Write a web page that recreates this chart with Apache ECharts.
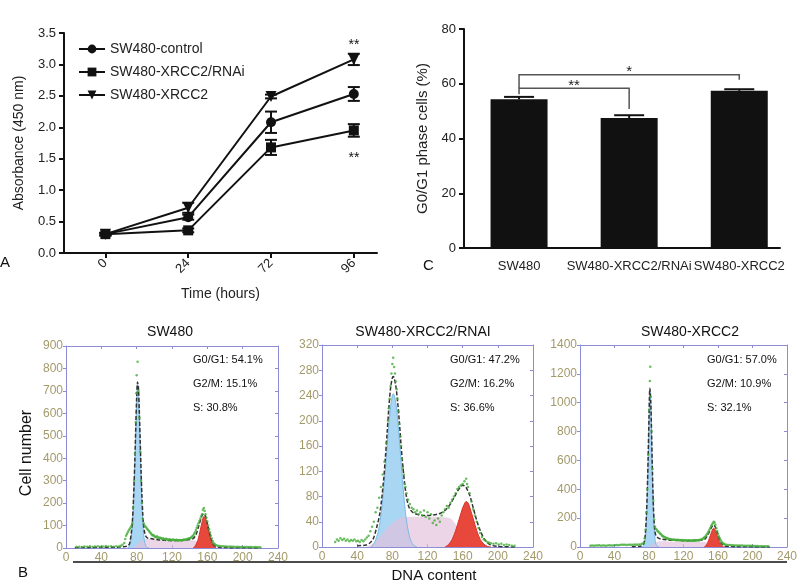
<!DOCTYPE html>
<html>
<head>
<meta charset="utf-8">
<script src="https://cdn.jsdelivr.net/npm/echarts@6/dist/echarts.min.js"></script>
<style>
  html, body { margin: 0; padding: 0; background: #fff; }
  #main { width: 800px; height: 584px; }
</style>
</head>
<body>
<div id="main"></div>
<script>
// ---- panel A: proliferation (absorbance 450 nm) ----
const timeLabels = ['0', '24', '72', '96'];
const ctrlMean = [0.30, 0.57, 2.08, 2.53];
const ctrlErr = [0.02, 0.04, 0.17, 0.11];
const rnaiMean = [0.30, 0.36, 1.68, 1.95];
const rnaiErr = [0.02, 0.03, 0.12, 0.10];
const xrccMean = [0.30, 0.72, 2.49, 3.08];
const xrccErr = [0.02, 0.08, 0.03, 0.09];
const seriesNames = ['SW480-control', 'SW480-XRCC2/RNAi', 'SW480-XRCC2'];

// ---- panel C: G0/G1 fraction ----
const groups = ['SW480', 'SW480-XRCC2/RNAi', 'SW480-XRCC2'];
const g1Pct = [54.3, 47.5, 57.4];
const g1PctErr = [0.9, 1.0, 0.6];
// [from, to, top, leftFoot, rightFoot]
const brackets = [[0, 1, 58.4, 56.2, 50.8], [0, 2, 63.3, 58.4, 61.5]];
const bracketLabels = ['**', '*'];

// ---- panel B: DNA histograms ----
const sampleNames = ['SW480', 'SW480-XRCC2/RNAI', 'SW480-XRCC2'];
const g1Share = ['54.1%', '47.2%', '57.0%'];
const g2mShare = ['15.1%', '16.2%', '10.9%'];
const sShare = ['30.8%', '36.6%', '32.1%'];
const histMax = [900, 320, 1400];
const histStep = [100, 40, 200];

const g1Fit1 = [[70,0],[72,12],[74,50],[75,95],[76,160],[77,260],[78,380],[79,520],[80,650],[81,734],[82,700],[83,590],[84,450],[85,310],[86,195],[87,110],[88,58],[89,27],[90,12],[92,2],[94,0]];
const sFit1 = [[74,0],[78,8],[82,22],[86,34],[90,40],[96,40],[104,36],[112,33],[120,32],[130,33],[140,35],[146,33],[150,25],[154,14],[158,5],[162,0]];
const g2Fit1 = [[144,0],[146,8],[148,22],[150,45],[152,80],[154,115],[156,140],[158,132],[160,105],[162,70],[164,40],[166,18],[168,6],[170,0]];
const fit1 = [[10,2],[40,3],[60,4],[66,6],[70,10],[72,20],[74,70],[75,110],[76,180],[77,280],[78,400],[79,540],[80,670],[81,740],[82,715],[83,610],[84,480],[85,340],[86,230],[87,145],[88,95],[89,70],[90,55],[92,45],[96,42],[104,37],[112,34],[120,33],[130,34],[140,38],[144,42],[146,52],[148,68],[150,95],[152,120],[154,145],[156,152],[158,140],[160,110],[162,75],[164,45],[166,22],[168,10],[172,4],[180,2],[220,0]];
const dots1 = [[12,4],[15,6],[18,5],[21,7],[24,6],[27,8],[30,6],[33,7],[36,8],[39,6],[42,7],[45,9],[48,7],[51,8],[54,6],[57,8],[60,7],[62,10],[64,14],[66,22],[67,40],[68,55],[69,62],[70,70],[71,78],[72,85],[73,90],[74,98],[75,110],[76,180],[77,300],[78,420],[79,560],[79.5,690],[80,770],[81,830],[82,700],[83,580],[84,430],[85,300],[86,200],[87,130],[88,110],[89,100],[90,95],[91,90],[92,85],[93,80],[94,76],[95,70],[96,66],[97,60],[98,56],[99,58],[100,52],[101,50],[102,48],[103,52],[104,45],[105,47],[106,44],[107,46],[108,42],[109,40],[110,43],[111,39],[112,38],[113,41],[114,40],[115,37],[116,36],[117,39],[118,38],[119,35],[120,36],[121,38],[122,37],[123,34],[124,35],[125,37],[126,36],[127,33],[128,34],[129,36],[130,35],[131,33],[132,35],[133,37],[134,38],[135,36],[136,38],[137,40],[138,40],[139,42],[140,43],[141,45],[142,48],[143,52],[144,56],[145,62],[146,70],[147,80],[148,90],[149,100],[150,110],[151,120],[152,130],[153,140],[154,150],[155,170],[156,178],[157,165],[158,150],[159,135],[160,118],[161,100],[162,85],[163,70],[164,55],[165,42],[166,30],[167,22],[168,18],[169,14],[170,12],[172,10],[174,9],[176,8],[178,8],[180,7],[182,7],[184,6],[186,7],[188,6],[190,6],[192,5],[194,6],[196,5],[198,5],[200,5],[202,4],[204,5],[206,4],[208,4],[210,4],[212,3],[214,4],[216,3],[218,3],[220,3]];

const g1Fit2 = [[56,0],[60,8],[64,25],[66,40],[68,62],[70,90],[72,122],[74,158],[76,193],[78,222],[80,240],[81,243],[82,241],[84,228],[86,203],[88,170],[90,134],[92,98],[94,67],[96,43],[98,26],[100,14],[102,7],[104,3],[108,0]];
const sFit2 = [[50,0],[56,4],[62,10],[68,20],[74,30],[80,38],[86,44],[92,47],[100,48],[110,48],[120,48],[130,48],[140,47],[146,45],[150,40],[154,32],[158,22],[162,12],[166,5],[170,0]];
const g2Fit2 = [[140,0],[144,4],[148,12],[152,26],[156,44],[160,62],[163,71],[164,72],[166,70],[168,63],[172,45],[176,26],[180,12],[184,5],[188,1],[192,0]];
const fit2 = [[40,2],[50,3],[54,6],[58,12],[62,30],[66,55],[70,105],[72,140],[74,180],[76,220],[78,252],[80,268],[81,270],[82,268],[84,255],[86,230],[88,198],[90,160],[92,128],[94,100],[96,80],[98,67],[100,60],[104,54],[110,51],[116,50],[122,50],[128,51],[134,53],[140,58],[146,68],[150,78],[154,88],[158,96],[160,98],[162,97],[164,94],[168,82],[172,62],[176,42],[180,26],[184,14],[188,7],[192,3],[200,1],[220,0]];
const dots2 = [[15,8],[17,12],[19,10],[21,14],[23,11],[25,13],[27,10],[29,12],[31,9],[33,11],[35,10],[37,12],[39,9],[41,10],[43,8],[45,11],[47,9],[49,12],[51,15],[53,18],[55,25],[57,32],[59,40],[61,55],[63,62],[65,78],[67,95],[69,115],[71,135],[73,165],[75,200],[76,220],[77,235],[78,255],[79,275],[80,290],[81,300],[82,285],[83,275],[84,262],[85,250],[86,235],[87,215],[88,195],[89,175],[90,160],[91,140],[92,125],[93,115],[94,100],[95,95],[96,85],[98,75],[100,68],[102,62],[104,60],[106,55],[108,58],[110,52],[112,55],[114,50],[116,58],[118,48],[120,55],[122,45],[124,52],[126,38],[128,42],[130,35],[132,45],[134,40],[136,50],[138,55],[140,60],[142,65],[144,62],[146,70],[148,75],[150,80],[152,85],[154,92],[156,95],[158,98],[160,100],[162,104],[164,108],[165,100],[166,95],[168,85],[170,72],[172,60],[174,50],[176,40],[178,30],[180,22],[182,16],[184,12],[186,10],[188,8],[190,7],[192,6],[195,5],[198,6],[201,4],[204,5],[207,3],[210,4],[213,3],[216,2],[219,2]];

const g1Fit3 = [[72,0],[74,10],[75,30],[76,80],[77,180],[78,350],[79,580],[80,860],[81,1088],[82,1000],[83,760],[84,490],[85,270],[86,130],[87,55],[88,20],[90,3],[92,0]];
const sFit3 = [[78,0],[82,10],[86,25],[90,38],[96,40],[104,38],[112,36],[120,35],[130,35],[140,36],[146,33],[150,25],[154,14],[158,5],[162,0]];
const g2Fit3 = [[144,0],[146,10],[148,30],[150,60],[152,95],[154,125],[155,130],[156,126],[158,100],[160,62],[162,30],[164,10],[166,2],[168,0]];
const fit3 = [[60,2],[70,5],[72,10],[74,25],[75,50],[76,110],[77,220],[78,390],[79,620],[80,900],[81,1100],[82,1020],[83,790],[84,520],[85,300],[86,170],[87,105],[88,80],[90,65],[94,55],[100,50],[110,46],[120,44],[130,44],[140,46],[144,52],[146,62],[148,82],[150,105],[152,130],[154,150],[155,152],[156,148],[158,122],[160,85],[162,50],[164,25],[166,12],[170,5],[180,2],[220,0]];
const dots3 = [[12,8],[14,10],[16,9],[18,11],[20,10],[22,12],[24,9],[26,10],[28,11],[30,9],[32,10],[34,12],[36,11],[38,10],[40,12],[42,13],[44,12],[46,14],[48,15],[50,16],[52,15],[54,14],[56,15],[58,16],[60,15],[62,16],[64,17],[66,16],[68,18],[70,18],[72,22],[74,30],[75,60],[76,120],[77,240],[78,400],[79,640],[80,950],[81,1150],[81.5,1250],[82,1040],[83,800],[84,540],[85,320],[86,190],[87,140],[88,125],[89,120],[90,110],[91,105],[92,98],[93,92],[94,88],[95,80],[96,75],[97,72],[98,68],[99,65],[100,62],[101,60],[102,58],[103,56],[104,55],[105,54],[106,52],[107,51],[108,50],[109,51],[110,50],[111,49],[112,48],[113,49],[114,50],[115,47],[116,46],[117,47],[118,48],[119,46],[120,45],[121,46],[122,47],[123,45],[124,44],[125,45],[126,46],[127,45],[128,45],[129,44],[130,44],[131,46],[132,47],[133,46],[134,45],[135,46],[136,46],[137,47],[138,48],[139,49],[140,50],[141,52],[142,55],[143,60],[144,65],[145,70],[146,78],[147,86],[148,95],[149,108],[150,120],[151,132],[152,145],[153,155],[154,165],[155,175],[156,170],[157,155],[158,130],[159,110],[160,92],[161,75],[162,60],[163,48],[164,38],[165,30],[166,24],[167,20],[168,18],[170,15],[172,14],[174,13],[176,12],[178,12],[180,11],[182,11],[184,10],[186,10],[188,10],[190,9],[192,9],[194,9],[196,8],[198,8],[200,8],[202,7],[204,7],[206,7],[208,6],[210,6],[212,6],[214,5],[216,5],[218,5]];

const histG1 = [g1Fit1, g1Fit2, g1Fit3];
const histS = [sFit1, sFit2, sFit3];
const histG2 = [g2Fit1, g2Fit2, g2Fit3];
const histFit = [fit1, fit2, fit3];
const histDots = [dots1, dots2, dots3];

const FONT = 'Liberation Sans, Arial, Helvetica, sans-serif';
const histGrids = [
  { left: 66, top: 346, width: 212, height: 202 },
  { left: 322, top: 345, width: 211, height: 202 },
  { left: 580, top: 345, width: 213, height: 202 }
];
const frameColor = '#8c8cd8';
const tickText = '#a39a6a';

const chart = echarts.init(document.getElementById('main'));

function errorSeries(name, means, errs) {
  return {
    type: 'custom',
    name: name,
    xAxisIndex: 0,
    yAxisIndex: 0,
    z: 3,
    silent: true,
    data: means.map((m, i) => [i, m - errs[i], m + errs[i]]),
    renderItem: (params, api) => {
      const lo = api.coord([api.value(0), api.value(1)]);
      const hi = api.coord([api.value(0), api.value(2)]);
      const w = 6;
      const st = { stroke: '#111', lineWidth: 2 };
      return {
        type: 'group',
        children: [
          { type: 'line', shape: { x1: lo[0], y1: lo[1], x2: hi[0], y2: hi[1] }, style: st },
          { type: 'line', shape: { x1: lo[0] - w, y1: lo[1], x2: lo[0] + w, y2: lo[1] }, style: st },
          { type: 'line', shape: { x1: hi[0] - w, y1: hi[1], x2: hi[0] + w, y2: hi[1] }, style: st }
        ]
      };
    }
  };
}

function lineSeries(name, means, symbol, rotate) {
  return {
    type: 'line',
    name: name,
    xAxisIndex: 0,
    yAxisIndex: 0,
    data: means.map((m, i) => [i, m]),
    symbol: symbol,
    symbolRotate: rotate,
    symbolSize: symbol === 'triangle' ? 11 : 10,
    itemStyle: { color: '#111' },
    lineStyle: { color: '#111', width: 2 },
    z: 4
  };
}

const xAxes = [
  {
    gridIndex: 0, type: 'value', min: -0.5, max: 3.28,
    splitLine: { show: false },
    axisLine: { onZero: false, lineStyle: { color: '#111', width: 2 } },
    axisTick: { customValues: [0, 1, 2, 3], length: 5, lineStyle: { width: 2, color: '#111' } },
    axisLabel: {
      customValues: [0, 1, 2, 3], rotate: 45, fontSize: 13, color: '#222', fontFamily: FONT,
      formatter: v => timeLabels[Math.round(v)]
    },
    name: 'Time (hours)', nameLocation: 'middle', nameGap: 34,
    nameTextStyle: { fontSize: 14, color: '#222', fontFamily: FONT }
  },
  {
    gridIndex: 1, type: 'value', min: -0.5, max: 2.37,
    splitLine: { show: false },
    axisLine: { onZero: false, lineStyle: { color: '#111', width: 2 } },
    axisTick: { show: false },
    axisLabel: {
      customValues: [0, 1, 2], fontSize: 13, color: '#222', fontFamily: FONT, margin: 12,
      formatter: v => groups[Math.round(v)]
    }
  }
];
const yAxes = [
  {
    gridIndex: 0, type: 'value', min: 0, max: 3.5, interval: 0.5,
    splitLine: { show: false },
    axisLine: { show: true, onZero: false, lineStyle: { color: '#111', width: 2 } },
    axisTick: { show: true, length: 5, lineStyle: { width: 2, color: '#111' } },
    axisLabel: { fontSize: 13, color: '#222', fontFamily: FONT, formatter: v => v.toFixed(1) },
    name: 'Absorbance (450 nm)', nameLocation: 'middle', nameGap: 38,
    nameTextStyle: { fontSize: 14, color: '#222', fontFamily: FONT }
  },
  {
    gridIndex: 1, type: 'value', min: 0, max: 80, interval: 20,
    splitLine: { show: false },
    axisLine: { show: true, onZero: false, lineStyle: { color: '#111', width: 2 } },
    axisTick: { show: true, length: 5, lineStyle: { width: 2, color: '#111' } },
    axisLabel: { fontSize: 13, color: '#222', fontFamily: FONT },
    name: 'G0/G1 phase cells (%)', nameLocation: 'middle', nameGap: 34,
    nameTextStyle: { fontSize: 15, color: '#222', fontFamily: FONT }
  }
];

const grids = [
  { left: 64, top: 33, width: 313, height: 220 },
  { left: 464, top: 29, width: 316, height: 219 }
].concat(histGrids);

const series = [
  lineSeries(seriesNames[0], ctrlMean, 'circle', 0),
  lineSeries(seriesNames[1], rnaiMean, 'rect', 0),
  lineSeries(seriesNames[2], xrccMean, 'triangle', 180),
  errorSeries('errCtrl', ctrlMean, ctrlErr),
  errorSeries('errRnai', rnaiMean, rnaiErr),
  errorSeries('errXrcc', xrccMean, xrccErr),
  {
    type: 'bar', xAxisIndex: 1, yAxisIndex: 1, barWidth: 57,
    data: g1Pct.map((v, i) => [i, v]),
    itemStyle: { color: '#111' }
  },
  {
    type: 'custom', xAxisIndex: 1, yAxisIndex: 1, silent: true, z: 3,
    data: g1Pct.map((v, i) => [i, v, v + g1PctErr[i]]),
    renderItem: (params, api) => {
      const lo = api.coord([api.value(0), api.value(1)]);
      const hi = api.coord([api.value(0), api.value(2)]);
      const st = { stroke: '#111', lineWidth: 2 };
      return {
        type: 'group',
        children: [
          { type: 'line', shape: { x1: lo[0], y1: lo[1], x2: hi[0], y2: hi[1] }, style: st },
          { type: 'line', shape: { x1: hi[0] - 15, y1: hi[1], x2: hi[0] + 15, y2: hi[1] }, style: st }
        ]
      };
    }
  },
  {
    type: 'custom', xAxisIndex: 1, yAxisIndex: 1, silent: true, z: 3,
    data: brackets,
    renderItem: (params, api) => {
      const l = api.coord([api.value(0), api.value(2)]);
      const r = api.coord([api.value(1), api.value(2)]);
      const lb = api.coord([api.value(0), api.value(3)]);
      const rb = api.coord([api.value(1), api.value(4)]);
      return {
        type: 'group',
        children: [
          {
            type: 'polyline',
            shape: { points: [[lb[0], lb[1]], [l[0], l[1]], [r[0], r[1]], [rb[0], rb[1]]] },
            style: { stroke: '#555', lineWidth: 1.5, fill: null }
          },
          {
            type: 'text',
            style: {
              text: bracketLabels[params.dataIndex], x: (l[0] + r[0]) / 2, y: l[1] + 5,
              align: 'center', verticalAlign: 'bottom', font: '15px ' + FONT, fill: '#222'
            }
          }
        ]
      };
    }
  }
];

histGrids.forEach((g, k) => {
  const gi = k + 2;
  const bx = xAxes.length;
  xAxes.push({
    gridIndex: gi, type: 'value', min: 0, max: 240, interval: 40,
    splitLine: { show: false },
    axisLine: { onZero: false, lineStyle: { color: frameColor, width: 1 } },
    axisTick: { inside: true, length: 3, lineStyle: { color: frameColor } },
    axisLabel: { fontSize: 12, color: tickText, fontFamily: FONT, margin: 4 }
  });
  xAxes.push({
    gridIndex: gi, type: 'value', position: 'top', min: 0, max: 240, interval: 40,
    splitLine: { show: false },
    axisLine: { onZero: false, lineStyle: { color: frameColor, width: 1 } },
    axisTick: { inside: true, length: 3, lineStyle: { color: frameColor } },
    axisLabel: { show: false }
  });
  const ly = yAxes.length;
  yAxes.push({
    gridIndex: gi, type: 'value', min: 0, max: histMax[k], interval: histStep[k],
    splitLine: { show: false },
    axisLine: { show: true, onZero: false, lineStyle: { color: frameColor, width: 1 } },
    axisTick: { show: true, length: 3, lineStyle: { color: frameColor } },
    axisLabel: { fontSize: 12, color: tickText, fontFamily: FONT, margin: 3, formatter: v => String(v) }
  });
  yAxes.push({
    gridIndex: gi, type: 'value', position: 'right', min: 0, max: histMax[k], interval: histStep[k],
    splitLine: { show: false },
    axisLine: { show: true, onZero: false, lineStyle: { color: frameColor, width: 1 } },
    axisTick: { show: true, inside: true, length: 3, lineStyle: { color: frameColor } },
    axisLabel: { show: false }
  });
  const base = { xAxisIndex: bx, yAxisIndex: ly, silent: true, animation: false };
  series.push(Object.assign({
    type: 'line', data: histG1[k], smooth: 0.3, symbol: 'none',
    lineStyle: { color: '#7cb8e4', width: 1 },
    areaStyle: { color: '#a9d6f3', opacity: 1 }, z: 2
  }, base));
  series.push(Object.assign({
    type: 'line', data: histS[k], smooth: 0.3, symbol: 'none',
    lineStyle: { width: 0 },
    areaStyle: { color: '#e3bedb', opacity: 0.65 }, z: 2
  }, base));
  series.push(Object.assign({
    type: 'line', data: histG2[k], smooth: 0.3, symbol: 'none',
    lineStyle: { color: '#d8332a', width: 1 },
    areaStyle: { color: '#e8473b', opacity: 1 }, z: 2
  }, base));
  series.push(Object.assign({
    type: 'line', data: histFit[k], smooth: 0.3, symbol: 'none',
    lineStyle: { color: '#333', width: 1.5, type: [4, 2] }, z: 3
  }, base));
  series.push(Object.assign({
    type: 'scatter', data: histDots[k], symbol: 'circle', symbolSize: 2.5,
    itemStyle: { color: '#45ad3a' }, z: 4
  }, base));
});

const graphics = [];
function txt(text, x, y, size, opts) {
  graphics.push({
    type: 'text', x: x, y: y,
    style: Object.assign({ text: text, font: size + 'px ' + FONT, fill: '#111', align: 'left', verticalAlign: 'middle' }, opts || {})
  });
}
txt('**', 354, 45, 14, { align: 'center' });
txt('**', 354, 158, 14, { align: 'center' });
txt('A', 0, 263, 15);
txt('C', 423, 266, 15);
txt('B', 18, 573, 15);
const titleX = [170, 423, 690];
const statX = [193, 450, 707];
sampleNames.forEach((n, k) => {
  txt(n, titleX[k], 332, 14, { align: 'center' });
  txt('G0/G1: ' + g1Share[k], statX[k], 360, 11);
  txt('G2/M: ' + g2mShare[k], statX[k], 384, 11);
  txt('S: ' + sShare[k], statX[k], 408, 11);
});
graphics.push({
  type: 'text', x: 27, y: 453, rotation: Math.PI / 2,
  style: { text: 'Cell number', font: '16px ' + FONT, fill: '#111', align: 'center', verticalAlign: 'middle' }
});
txt('DNA content', 434, 576, 15, { align: 'center' });
graphics.push({
  type: 'line', shape: { x1: 73, y1: 562, x2: 787, y2: 562 },
  style: { stroke: '#111', lineWidth: 1.5 }
});

chart.setOption({
  backgroundColor: '#fff',
  animation: false,
  textStyle: { fontFamily: FONT },
  legend: {
    data: seriesNames, orient: 'vertical', left: 73, top: 37,
    itemWidth: 26, itemHeight: 11, itemGap: 9,
    textStyle: { fontSize: 14, color: '#222', fontFamily: FONT }
  },
  grid: grids,
  xAxis: xAxes,
  yAxis: yAxes,
  series: series,
  graphic: graphics
});
</script>
</body>
</html>
